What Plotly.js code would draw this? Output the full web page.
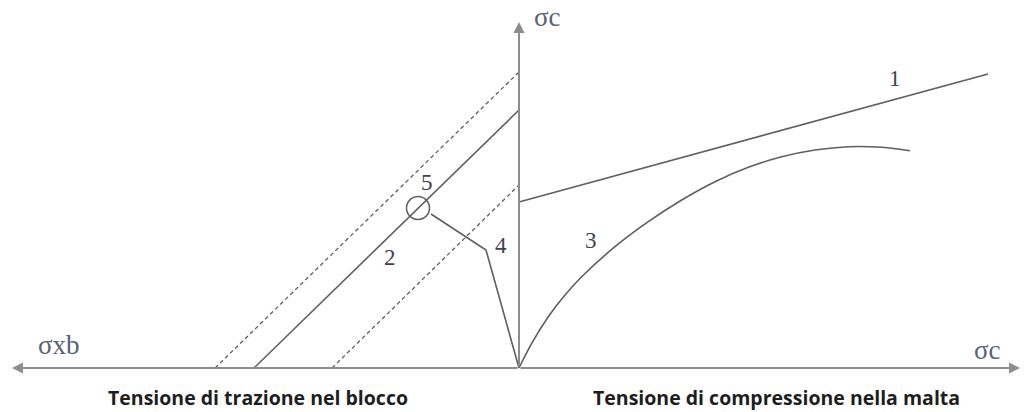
<!DOCTYPE html>
<html>
<head>
<meta charset="utf-8">
<script src="https://cdn.plot.ly/plotly-3.0.1.min.js"></script>
<style>
  html, body { margin: 0; padding: 0; background: #fff; }
  #chart { width: 1024px; height: 412px; }
</style>
</head>
<body>
<div id="chart"></div>
<script>
// Failure domain of masonry: tension in the block (left) vs compression in the mortar (right).
// Units are arbitrary stress units; origin at the axes crossing.

// 1 - block failure envelope (straight line)
const line1X = [0, 46.9];
const line1Y = [16.6, 29.4];

// 2 - block tensile failure line, with its two dashed bounds
const line2X = [-26.5, 0];
const line2Y = [0, 25.8];
const upperDashX = [-30.4, 0];
const upperDashY = [0, 29.6];
const lowerDashX = [-18.7, 0];
const lowerDashY = [0, 18.3];

// 3 - mortar compression curve
const curve3X = [0, 1.27, 2.93, 4.6, 6.27, 9.6, 12.93, 16.27, 19.6, 22.93, 26.27, 29.6, 32.93, 36.27, 39.1];
const curve3Y = [0, 2.47, 5.13, 7.3, 9.13, 12.13, 14.63, 16.8, 18.63, 20.07, 21.13, 21.8, 22.13, 22.07, 21.73];

// 4 - loading path up to point 5
const path4X = [0, -3.3, -8.8];
const path4Y = [0, 11.8, 15.4];

// 5 - failure point
const point5 = { x: -10.1, y: 16.0, r: 1.15 };

// Curve numbers
const labelText = ['1', '2', '3', '4', '5'];
const labelX = [37.6, -12.9, 7.2, -1.8, -9.2];
const labelY = [29.0, 11.1, 12.8, 12.3, 18.6];

// Axis names
const axisText = ['σc', 'σxb', 'σc'];
const axisX = [2.8, -46.0, 46.8];
const axisY = [35.1, 2.3, 1.8];

// Captions under the horizontal axis
const captionText = ['Tensione di trazione nel blocco', 'Tensione di compressione nella malta'];
const captionX = [-26.1, 25.7];
const captionY = [-2.95, -2.95];

// Axis extents
const axisLeft = -50.7, axisRight = 50.1, axisTop = 34.6;

const solid = { color: '#5f5f5f', width: 1.6 };
const dashed = { color: '#5f5f5f', width: 1.3, dash: '4px,3px' };

const traces = [
  { x: line1X, y: line1Y, mode: 'lines', line: solid },
  { x: line2X, y: line2Y, mode: 'lines', line: solid },
  { x: upperDashX, y: upperDashY, mode: 'lines', line: dashed },
  { x: lowerDashX, y: lowerDashY, mode: 'lines', line: dashed },
  { x: curve3X, y: curve3Y, mode: 'lines', line: Object.assign({ shape: 'spline', smoothing: 1 }, solid) },
  { x: path4X, y: path4Y, mode: 'lines', line: solid }
].map(t => Object.assign(t, { showlegend: false, hoverinfo: 'skip' }));

const axisColor = '#8c8c8c';
function axisArrow(x, y) {
  return {
    x: x, y: y, ax: 0, ay: 0, xref: 'x', yref: 'y', axref: 'x', ayref: 'y',
    text: '', showarrow: true, arrowhead: 2, arrowsize: 1.1, arrowwidth: 2, arrowcolor: axisColor
  };
}

const annotations = [
  axisArrow(axisLeft, 0),
  axisArrow(axisRight, 0),
  axisArrow(0, axisTop)
];

labelText.forEach((t, i) => annotations.push({
  x: labelX[i], y: labelY[i], xref: 'x', yref: 'y', text: t, showarrow: false,
  font: { family: 'Liberation Serif, DejaVu Serif, serif', size: 23, color: '#3c4350' }
}));

axisText.forEach((t, i) => annotations.push({
  x: axisX[i], y: axisY[i], xref: 'x', yref: 'y', text: t, showarrow: false,
  font: { family: 'Liberation Serif, DejaVu Serif, serif', size: 27, color: '#56627a' }
}));

captionText.forEach((t, i) => annotations.push({
  x: captionX[i], y: captionY[i], xref: 'x', yref: 'y', text: '<b>' + t + '</b>', showarrow: false,
  borderpad: 0,
  font: { family: 'Open Sans, Noto Sans, sans-serif', size: 19.5, color: '#1e1e1e' }
}));

const layout = {
  width: 1024, height: 412,
  margin: { l: 0, r: 0, t: 0, b: 0 },
  paper_bgcolor: '#ffffff', plot_bgcolor: '#ffffff',
  xaxis: { range: [-51.9, 50.5], visible: false, fixedrange: true },
  yaxis: { range: [-4.4, 36.8], visible: false, fixedrange: true },
  shapes: [{
    type: 'circle', xref: 'x', yref: 'y',
    x0: point5.x - point5.r, x1: point5.x + point5.r,
    y0: point5.y - point5.r, y1: point5.y + point5.r,
    line: { color: '#5f5f5f', width: 1.5 }
  }],
  annotations: annotations
};

Plotly.newPlot('chart', traces, layout, { displayModeBar: false, staticPlot: true });
</script>
</body>
</html>
